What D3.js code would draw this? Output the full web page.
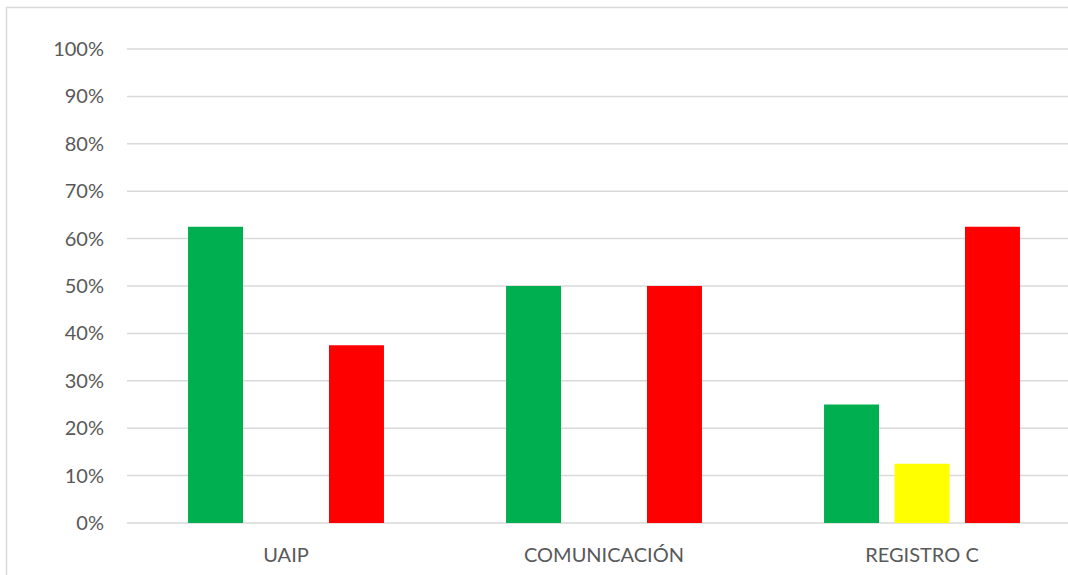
<!DOCTYPE html>
<html>
<head>
<meta charset="utf-8">
<script src="https://cdnjs.cloudflare.com/ajax/libs/d3/7.8.5/d3.min.js"></script>
<style>
  body { margin: 0; background: #fff; }
  svg text { font-family: Lato, "Open Sans", sans-serif; fill: #595959; }
</style>
</head>
<body>
<div id="chart"></div>
<script>
// categories and series
var categories = ["UAIP", "COMUNICACIÓN", "REGISTRO C"];
var series = ["verde", "amarillo", "rojo"];
var colors = ["#00b050", "#ffff00", "#ff0000"];

// values per series (fraction), in category order
var verde = [0.625, 0.50, 0.25];
var amarillo = [0, 0, 0.125];
var rojo = [0.375, 0.50, 0.625];

var yTicks = [0, 0.1, 0.2, 0.3, 0.4, 0.5, 0.6, 0.7, 0.8, 0.9, 1.0];

var values = [verde, amarillo, rojo];

var width = 1068, height = 575;
var plotLeft = 127, plotRight = 1081, plotTop = 49, plotBottom = 523;

var svg = d3.select("#chart")
  .append("svg")
  .attr("width", width)
  .attr("height", height);

// chart frame
svg.append("rect")
  .attr("x", 6.5)
  .attr("y", 7.5)
  .attr("width", 1100)
  .attr("height", 600)
  .attr("fill", "#fff")
  .attr("stroke", "#d9d9d9")
  .attr("stroke-width", 1.5);

var x0 = d3.scaleBand()
  .domain(categories)
  .range([plotLeft, plotRight]);

var x1 = d3.scaleBand()
  .domain(series)
  .range([0, x0.bandwidth()])
  .paddingInner(0.22)
  .paddingOuter(0.866);

var y = d3.scaleLinear()
  .domain([0, 1])
  .range([plotBottom, plotTop]);

// gridlines
svg.selectAll("line.grid")
  .data(yTicks)
  .enter()
    .append("line")
    .attr("class", "grid")
    .attr("x1", plotLeft)
    .attr("x2", plotRight)
    .attr("y1", function(d) { return y(d); })
    .attr("y2", function(d) { return y(d); })
    .attr("stroke", "#d9d9d9")
    .attr("stroke-width", 1.5);

// y axis labels
svg.selectAll("text.ytick")
  .data(yTicks)
  .enter()
    .append("text")
    .attr("class", "ytick")
    .attr("x", 104)
    .attr("y", function(d) { return y(d); })
    .attr("dy", "0.35em")
    .attr("text-anchor", "end")
    .style("font-size", "20px")
    .text(d3.format(".0%"));

// bars
var groups = svg.selectAll("g.cat")
  .data(categories)
  .enter()
    .append("g")
    .attr("class", "cat")
    .attr("transform", function(d) { return "translate(" + x0(d) + ",0)"; });

groups.selectAll("rect")
  .data(function(d, i) {
    return series.map(function(s, j) { return { s: s, v: values[j][i], c: colors[j] }; });
  })
  .enter()
    .append("rect")
    .attr("x", function(d) { return x1(d.s); })
    .attr("width", x1.bandwidth())
    .attr("y", function(d) { return y(d.v); })
    .attr("height", function(d) { return plotBottom - y(d.v); })
    .attr("fill", function(d) { return d.c; });

// category labels
svg.selectAll("text.cat")
  .data(categories)
  .enter()
    .append("text")
    .attr("class", "cat")
    .attr("x", function(d) { return x0(d) + x0.bandwidth() / 2; })
    .attr("y", 562)
    .attr("text-anchor", "middle")
    .style("font-size", "20px")
    .text(function(d) { return d; });
</script>
</body>
</html>
